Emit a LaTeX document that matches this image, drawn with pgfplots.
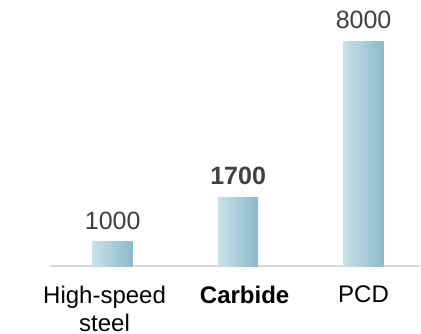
\documentclass[border=0pt]{standalone}
\usepackage{pgfplots}
\pgfplotsset{compat=1.18}
\usepackage{fontspec}
\setmainfont{Liberation Sans}
\definecolor{barL}{HTML}{C9E0E7}
\definecolor{barR}{HTML}{8BBACB}
\definecolor{numgray}{HTML}{404040}
\definecolor{axgray}{HTML}{D9D9D9}
\begin{document}
\begin{tikzpicture}
\useasboundingbox (0,0) rectangle (421pt,333pt);
\begin{axis}[
  at={(50pt,67pt)}, anchor=south west,
  scale only axis, width=370pt, height=250pt,
  xmin=-0.5, xmax=2.45, ymin=160, ymax=8871,
  axis y line=none,
  axis x line*=bottom,
  x axis line style={draw=axgray, line width=1.5pt, -},
  xtick={-0.065,1.052,2}, major tick length=0pt,
  xticklabels={{High-speed\\steel}, {\bfseries Carbide}, PCD},
  xticklabel style={anchor=north, inner sep=0pt, yshift=-19.5pt, align=center,
    font=\fontsize{24}{28}\selectfont, text=black},
  clip=false,
  ybar, bar width=40pt, bar shift=0pt,
  nodes near coords,
  point meta=explicit symbolic,
  nodes near coords style={anchor=south, inner sep=0pt, yshift=12pt,
    font=\fontsize{25}{30}\selectfont, text=numgray},
  every axis plot/.append style={draw=none, left color=barL, right color=barR},
]
\addplot table[x=x, y=h, meta=label] {
x h label
0 1000 1000
};
\addplot table[x=x, y=h, meta=label] {
x h label
1 2560 {\bfseries 1700}
};
\addplot table[x=x, y=h, meta=label] {
x h label
2 8000 8000
};
\end{axis}
\end{tikzpicture}
\end{document}
